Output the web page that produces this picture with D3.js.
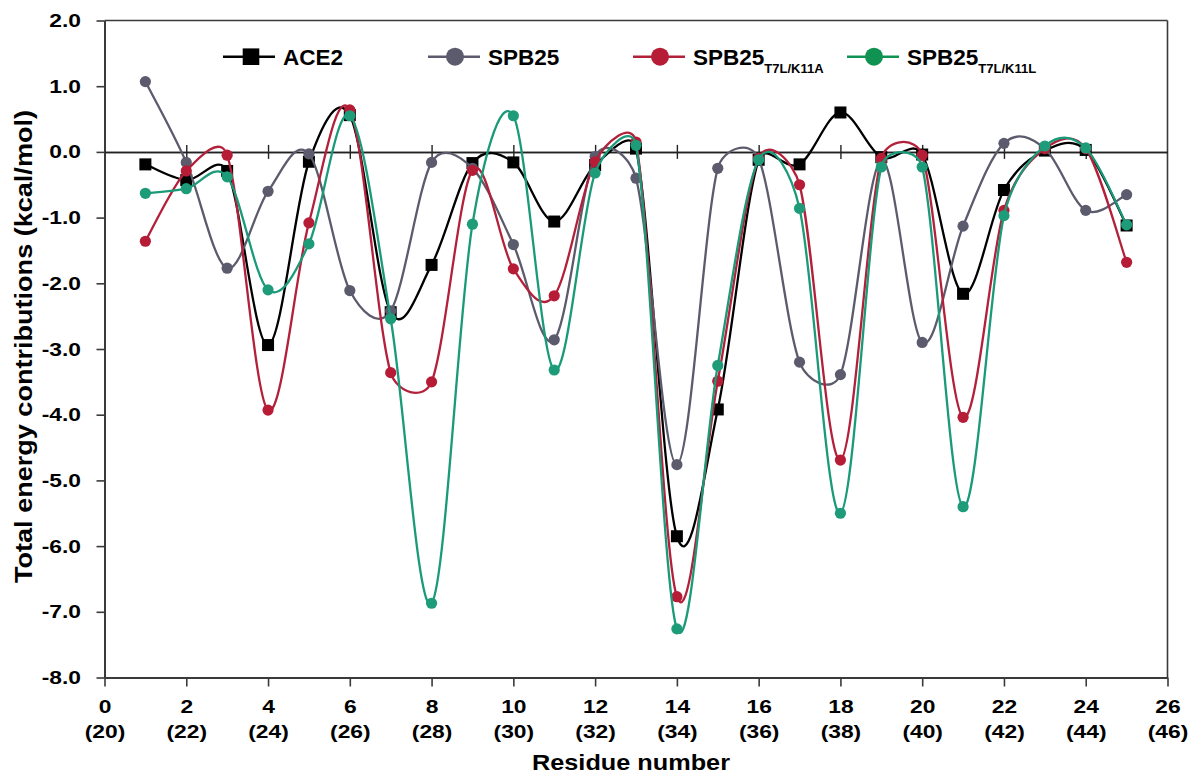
<!DOCTYPE html>
<html>
<head>
<meta charset="utf-8">
<script src="https://cdn.jsdelivr.net/npm/d3@7"></script>
<style>
  html, body { margin: 0; padding: 0; background: #fff; }
  svg { display: block; }
  text { font-family: "Liberation Sans", Arial, sans-serif; font-weight: bold; fill: #000; }
</style>
</head>
<body>
<svg id="chart" width="1203" height="774"></svg>
<script>
// ---------------- data ----------------
const residues = [1,2,3,4,5,6,7,8,9,10,11,12,13,14,15,16,17,18,19,20,21,22,23,24,25];
const ace2  = [-0.19,-0.43,-0.29,-2.94,-0.15,0.56,-2.44,-1.72,-0.17,-0.16,-1.06,-0.20,0.05,-5.85,-3.92,-0.12,-0.19,0.60,-0.08,-0.04,-2.16,-0.58,0.02,0.03,-1.12];
const spb25 = [1.07,-0.16,-1.77,-0.60,-0.03,-2.11,-2.42,-0.16,-0.25,-1.41,-2.86,-0.07,-0.40,-4.76,-0.25,-0.10,-3.20,-3.39,-0.13,-2.90,-1.13,0.13,0.05,-0.89,-0.65];
const k11a  = [-1.36,-0.29,-0.05,-3.93,-1.08,0.64,-3.36,-3.50,-0.28,-1.78,-2.19,-0.15,0.15,-6.77,-3.49,-0.10,-0.50,-4.69,-0.10,-0.05,-4.04,-0.89,0.05,0.05,-1.68];
const k11l  = [-0.63,-0.56,-0.38,-2.10,-1.40,0.55,-2.54,-6.87,-1.10,0.55,-3.32,-0.32,0.10,-7.26,-3.25,-0.12,-0.86,-5.50,-0.23,-0.23,-5.40,-0.97,0.09,0.06,-1.11];

const xTicks = [0,2,4,6,8,10,12,14,16,18,20,22,24,26];
const xTickSub = ["(20)","(22)","(24)","(26)","(28)","(30)","(32)","(34)","(36)","(38)","(40)","(42)","(44)","(46)"];
const yTicks = [2,1,0,-1,-2,-3,-4,-5,-6,-7,-8];
const innerTicks = [2,4,6,8,10,12,14,16,18,20,22,24];

const series = [
  {name:"ACE2",  sub:"",         values:ace2,  line:"#000000", fill:"#000000", legendFill:"#000000", marker:"square"},
  {name:"SPB25", sub:"",         values:spb25, line:"#5b5b6d", fill:"#5b5b6d", legendFill:"#5b5b6d", marker:"circle"},
  {name:"SPB25", sub:"T7L/K11A", values:k11a,  line:"#b3203a", fill:"#b71c36", legendFill:"#b71c36", marker:"circle"},
  {name:"SPB25", sub:"T7L/K11L", values:k11l,  line:"#1a9a78", fill:"#1e9c7a", legendFill:"#109352", marker:"circle"}
];

// ---------------- layout ----------------
const svg = d3.select("#chart");
const x = d3.scaleLinear().domain([0, 26]).range([104.5, 1167.5]);
const y = d3.scaleLinear().domain([-8, 2]).range([677.5, 20.5]);

// Excel-like smoothed curve (Bezier with 1/6 tension, arms clamped to half segment)
function ExcelCurve(context){ this._context = context; }
ExcelCurve.prototype = {
  areaStart(){ this._line = 0; },
  areaEnd(){ this._line = NaN; },
  lineStart(){ this._pts = []; },
  point(px, py){ this._pts.push([+px, +py]); },
  lineEnd(){
    const p = this._pts, c = this._context, n = p.length;
    if (!n) return;
    c.moveTo(p[0][0], p[0][1]);
    const dist = (a,b) => Math.hypot(a[0]-b[0], a[1]-b[1]);
    for (let i = 0; i < n - 1; i++) {
      const p0 = p[i-1] || p[i], p1 = p[i], p2 = p[i+1], p3 = p[i+2] || p[i+1];
      const d02 = dist(p0,p2), d12 = dist(p1,p2), d13 = dist(p1,p3);
      let f1 = 1/6, f2 = 1/6;
      if (d02 > 0 && d02/6 >= d12/2) f1 = d12/2/d02;
      if (d13 > 0 && d13/6 >= d12/2) f2 = d12/2/d13;
      const b1 = [p1[0] + (p2[0]-p0[0])*f1, p1[1] + (p2[1]-p0[1])*f1];
      const b2 = [p2[0] - (p3[0]-p1[0])*f2, p2[1] - (p3[1]-p1[1])*f2];
      c.bezierCurveTo(b1[0], b1[1], b2[0], b2[1], p2[0], p2[1]);
    }
  }
};
const curveExcel = ctx => new ExcelCurve(ctx);

// ---------------- frame & axes ----------------
const axisColor = "#3a3a3a";

// top & right border
svg.append("line").attr("x1", x(0)).attr("x2", x(26)).attr("y1", y(2)).attr("y2", y(2))
  .attr("stroke", axisColor).attr("stroke-width", 1.6);
svg.append("line").attr("x1", x(26)).attr("x2", x(26)).attr("y1", y(2)).attr("y2", y(-8))
  .attr("stroke", axisColor).attr("stroke-width", 1.6);

// left axis
const gy = svg.append("g").attr("transform", `translate(${x(0)},0)`)
  .call(d3.axisLeft(y).tickValues(yTicks).tickSize(8).tickSizeOuter(0).tickPadding(11.6)
    .tickFormat(v => v.toFixed(1)));
gy.select(".domain").attr("stroke", axisColor).attr("stroke-width", 2);
gy.selectAll(".tick line").attr("stroke", axisColor).attr("stroke-width", 1.6);
gy.selectAll(".tick text")
  .attr("font-size", 19).attr("font-family", null).attr("fill", "#000")
  .attr("transform", "scale(1.2,1)");

// bottom axis at -8
const gx = svg.append("g").attr("transform", `translate(0,${y(-8)})`)
  .call(d3.axisBottom(x).tickValues(xTicks).tickSize(9).tickSizeOuter(0).tickFormat(""));
gx.select(".domain").attr("stroke", axisColor).attr("stroke-width", 2);
gx.selectAll(".tick line").attr("stroke", axisColor).attr("stroke-width", 1.6);
gx.selectAll(".tick text").remove();
gx.selectAll(".tick").each(function(d, i){
  const t = d3.select(this);
  t.append("text").attr("text-anchor", "middle").attr("font-size", 19)
    .attr("transform", "translate(0,35.5) scale(1.2,1)").text(d);
  t.append("text").attr("text-anchor", "middle").attr("font-size", 19)
    .attr("transform", "translate(0,60.5) scale(1.2,1)").text(xTickSub[i]);
});

// zero line with crossing ticks
const gz1 = svg.append("g").attr("transform", `translate(0,${y(0)})`)
  .call(d3.axisBottom(x).tickValues(innerTicks).tickSize(7).tickSizeOuter(0).tickFormat(""));
const gz2 = svg.append("g").attr("transform", `translate(0,${y(0)})`)
  .call(d3.axisTop(x).tickValues(innerTicks).tickSize(7).tickSizeOuter(0).tickFormat(""));
[gz1, gz2].forEach(g => {
  g.select(".domain").attr("stroke", "#222").attr("stroke-width", 1.5);
  g.selectAll(".tick line").attr("stroke", "#222").attr("stroke-width", 1.4);
  g.selectAll(".tick text").remove();
});

// axis titles
svg.append("text")
  .attr("transform", `translate(32,346.5) rotate(-90)`)
  .attr("text-anchor", "middle").attr("font-size", 23)
  .attr("textLength", 473).attr("lengthAdjust", "spacingAndGlyphs")
  .text("Total energy contributions (kcal/mol)");
svg.append("text")
  .attr("x", 631).attr("y", 770).attr("text-anchor", "middle").attr("font-size", 22)
  .attr("textLength", 198).attr("lengthAdjust", "spacingAndGlyphs")
  .text("Residue number");

// ---------------- series ----------------
const line = d3.line().x((d, i) => x(residues[i])).y(d => y(d)).curve(curveExcel);

series.forEach(s => {
  const g = svg.append("g");
  g.append("path").datum(s.values).attr("d", line)
    .attr("fill", "none").attr("stroke", s.line).attr("stroke-width", 2.3)
    .attr("stroke-linejoin", "round");
  if (s.marker === "square") {
    g.selectAll("rect").data(s.values).join("rect")
      .attr("x", (d, i) => x(residues[i]) - 6).attr("y", d => y(d) - 6)
      .attr("width", 12).attr("height", 12).attr("fill", s.fill);
  } else {
    g.selectAll("circle").data(s.values).join("circle")
      .attr("cx", (d, i) => x(residues[i])).attr("cy", d => y(d))
      .attr("r", 5.6).attr("fill", s.fill);
  }
});

// ---------------- legend ----------------
const legendX = [223, 428, 633, 847];
const legendY = 56.7;
series.forEach((s, i) => {
  const g = svg.append("g").attr("transform", `translate(${legendX[i]},${legendY})`);
  g.append("line").attr("x1", 0).attr("x2", 52).attr("y1", 0).attr("y2", 0)
    .attr("stroke", s.line === "#1a9a78" ? s.legendFill : s.line).attr("stroke-width", 2.6);
  if (s.marker === "square") {
    g.append("rect").attr("x", 28 - 8.3).attr("y", -8.3).attr("width", 16.6).attr("height", 16.6)
      .attr("fill", s.legendFill);
  } else {
    g.append("circle").attr("cx", 27).attr("cy", 0).attr("r", 9).attr("fill", s.legendFill);
  }
  const t = g.append("text").attr("x", 60).attr("y", 8.3).attr("font-size", 22.5);
  t.append("tspan").text(s.name);
  if (s.sub) {
    t.append("tspan").attr("font-size", 13).attr("dy", 8).text(s.sub);
  }
});
</script>
</body>
</html>
